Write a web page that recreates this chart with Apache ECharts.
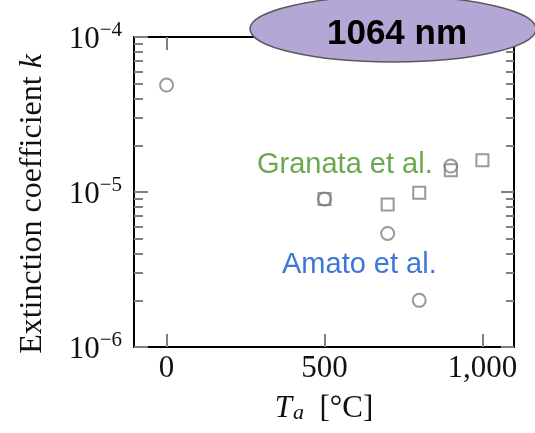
<!DOCTYPE html>
<html>
<head>
<meta charset="utf-8">
<script src="https://cdn.jsdelivr.net/npm/echarts@6/dist/echarts.min.js"></script>
<style>html,body{margin:0;padding:0;background:#fff}#c{width:535px;height:433px}</style>
</head>
<body>
<div id="c"></div>
<script>
// Annealing temperature [°C] and extinction coefficient k
const circleT = [0, 500, 700, 800, 900];
const circleK = [4.9e-5, 9.0e-6, 5.4e-6, 2.0e-6, 1.47e-5];
const squareT = [500, 700, 800, 900, 1000];
const squareK = [9.0e-6, 8.3e-6, 9.9e-6, 1.38e-5, 1.6e-5];
const xTicks = [0, 500, 1000];
const yMinorTicks = [2e-6,3e-6,4e-6,5e-6,6e-6,7e-6,8e-6,9e-6,2e-5,3e-5,4e-5,5e-5,6e-5,7e-5,8e-5,9e-5];

const serif = '"Liberation Serif", "DejaVu Serif", serif';
const sans = '"Liberation Sans", Arial, sans-serif';
const tickGray = '#7f7f7f';
const markGray = '#808080';

const chart = echarts.init(document.getElementById('c'), null, {renderer: 'canvas'});

function yLabel(v) {
  const e = Math.round(Math.log10(v));
  return '{b|10}{s|' + (e < 0 ? '\u2212' + (-e) : e) + '}';
}

const baseLog = {type: 'log', logBase: 10, min: 1e-6, max: 1e-4, splitLine: {show: false}};
const baseX = {type: 'value', min: -103, max: 1100, splitLine: {show: false}};

chart.setOption({
  animation: false,
  grid: {left: 134, right: 21, top: 37, bottom: 86, containLabel: false},
  xAxis: [
    Object.assign({}, baseX, {
      position: 'bottom',
      axisLine: {show: true, onZero: false, lineStyle: {color: '#000', width: 2}},
      axisTick: {show: true, inside: true, length: 13, customValues: xTicks, lineStyle: {color: tickGray, width: 2}},
      axisLabel: {show: true, customValues: xTicks, margin: 6, color: '#111', fontFamily: serif, fontSize: 31,
        formatter: v => v.toLocaleString('en-US')},
      name: '{i|T}{sub|a}{n|  [\u00b0C]}',
      nameLocation: 'middle', nameGap: 46,
      nameTextStyle: {color: '#111', fontFamily: serif, fontSize: 31,
        rich: {
          i: {fontFamily: serif, fontSize: 31, fontStyle: 'italic', color: '#111'},
          sub: {fontFamily: serif, fontSize: 22, fontStyle: 'italic', color: '#111', verticalAlign: 'bottom', lineHeight: 22, padding: [0, 0, 0, 1]},
          n: {fontFamily: serif, fontSize: 31, color: '#111'}
        }}
    }),
    Object.assign({}, baseX, {
      position: 'top',
      axisLine: {show: true, onZero: false, lineStyle: {color: '#000', width: 2}},
      axisTick: {show: true, inside: true, length: 13, customValues: xTicks, lineStyle: {color: tickGray, width: 2}},
      axisLabel: {show: false}
    })
  ],
  yAxis: [
    Object.assign({}, baseLog, {
      position: 'left',
      axisLine: {show: true, onZero: false, lineStyle: {color: '#000', width: 2}},
      axisTick: {show: true, inside: true, length: 14, lineStyle: {color: tickGray, width: 2}},
      axisLabel: {show: true, margin: 12, formatter: yLabel,
        rich: {
          b: {fontFamily: serif, fontSize: 31, color: '#111', lineHeight: 34, padding: [6, 0, 0, 0]},
          s: {fontFamily: serif, fontSize: 21, color: '#111', verticalAlign: 'top', lineHeight: 20}
        }},
      name: '{n|Extinction coefficient }{i|k}',
      nameLocation: 'middle', nameRotate: 90, nameGap: 85,
      nameTextStyle: {
        padding: [0, 24, 0, 0],
        rich: {
          n: {fontFamily: serif, fontSize: 32, color: '#111'},
          i: {fontFamily: serif, fontSize: 32, fontStyle: 'italic', color: '#111'}
        }}
    }),
    Object.assign({}, baseLog, {
      position: 'right',
      axisLine: {show: true, onZero: false, lineStyle: {color: '#000', width: 2}},
      axisTick: {show: true, inside: true, length: 13, lineStyle: {color: tickGray, width: 2}},
      axisLabel: {show: false}
    }),
    Object.assign({}, baseLog, {
      position: 'left',
      axisLine: {show: false, onZero: false},
      axisTick: {show: true, inside: true, length: 9, customValues: yMinorTicks, lineStyle: {color: tickGray, width: 2}},
      axisLabel: {show: false}
    }),
    Object.assign({}, baseLog, {
      position: 'right',
      axisLine: {show: false, onZero: false},
      axisTick: {show: true, inside: true, length: 8, customValues: yMinorTicks, lineStyle: {color: tickGray, width: 2}},
      axisLabel: {show: false}
    })
  ],
  series: [
    {
      name: 'circles', type: 'scatter', xAxisIndex: 0, yAxisIndex: 0,
      symbol: 'circle', symbolSize: 13,
      itemStyle: {color: 'rgba(0,0,0,0)', borderColor: markGray, borderWidth: 2},
      data: circleT.map((t, i) => [t, circleK[i]]),
      z: 3
    },
    {
      name: 'squares', type: 'scatter', xAxisIndex: 0, yAxisIndex: 0,
      symbol: 'rect', symbolSize: 12,
      itemStyle: {color: 'rgba(0,0,0,0)', borderColor: markGray, borderWidth: 2},
      data: squareT.map((t, i) => [t, squareK[i]]),
      z: 3
    }
  ],
  graphic: [
    {type: 'text', left: 257, top: 150, z: 50,
      style: {text: 'Granata et al.', fill: '#6aa84f', font: '29px ' + sans}},
    {type: 'text', left: 282, top: 250, z: 50,
      style: {text: 'Amato et al.', fill: '#3c78d8', font: '29px ' + sans}},
    {type: 'ellipse', z: 100,
      shape: {cx: 393, cy: 29, rx: 143, ry: 33},
      style: {fill: '#b4a7d6', stroke: '#595959', lineWidth: 1.5}},
    {type: 'text', z: 101, x: 397, y: 34,
      style: {text: '1064 nm', fill: '#000', font: 'bold 35px ' + sans, align: 'center', verticalAlign: 'middle'}}
  ]
});
</script>
</body>
</html>
